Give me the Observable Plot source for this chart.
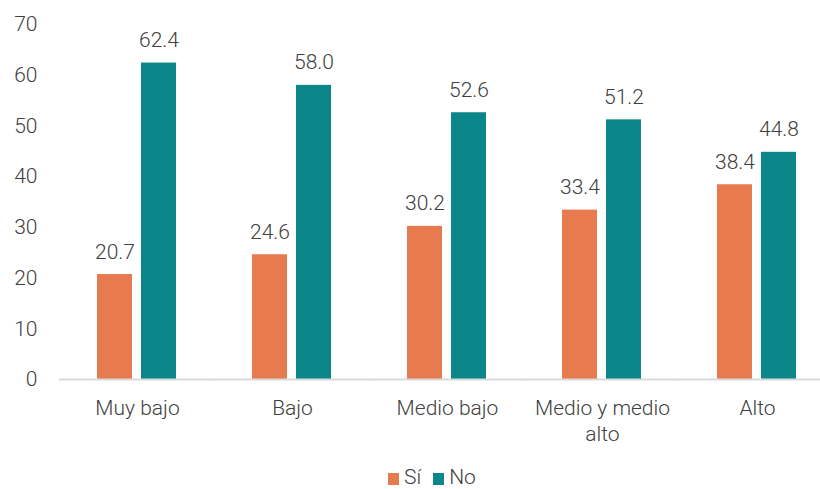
<!DOCTYPE html>
<html>
<head>
<meta charset="utf-8">
<script src="https://cdn.jsdelivr.net/npm/d3@7"></script>
<script src="https://cdn.jsdelivr.net/npm/@observablehq/plot@0.6"></script>
<style>
  body { margin: 0; background: #fff; font-family: Roboto, sans-serif; }
  #legend { height: 23px; line-height: 23px; padding-left: 388px; font-size: 21px; font-weight: 300; color: #404040; white-space: nowrap; }
  #legend span.sw { display: inline-block; width: 11px; height: 12px; margin-right: 5px; vertical-align: -1px; }
  #legend span.item { margin-right: 12px; }
  svg text { font-weight: 300; }
</style>
</head>
<body>
<div id="chart"></div>
<div id="legend"></div>
<script>
const categories = ["Muy bajo", "Bajo", "Medio bajo", "Medio y medio alto", "Alto"];
const tickLabels = ["Muy bajo", "Bajo", "Medio bajo", "Medio y medio\nalto", "Alto"];
const series = ["Sí", "No"];
const siValues = [20.7, 24.6, 30.2, 33.4, 38.4];
const noValues = [62.4, 58.0, 52.6, 51.2, 44.8];
const yTicks = [0, 10, 20, 30, 40, 50, 60, 70];
const colors = ["#E87A50", "#0B8789"];

const rows = [];
categories.forEach((c, i) => {
  rows.push({cat: c, series: "Sí", value: siValues[i]});
  rows.push({cat: c, series: "No", value: noValues[i]});
});
const fmt = d3.format(".1f");

const chart = Plot.plot({
  width: 820,
  height: 466,
  marginTop: 24,
  marginBottom: 87,
  marginLeft: 59,
  marginRight: -14,
  style: {fontFamily: "Roboto, sans-serif", fontSize: "21px", color: "#404040", background: "#fff"},
  fx: {domain: categories, paddingInner: 0.484, paddingOuter: 0.242, label: null, axis: null},
  x: {domain: series, paddingInner: 0.2, paddingOuter: 0, axis: null},
  y: {domain: [0, 70], axis: null},
  color: {domain: series, range: colors},
  marks: [
    Plot.axisY({ticks: yTicks, tickSize: 0, tickPadding: 60, label: null, fontSize: 21, fill: "#404040"}),
    Plot.axisFx({anchor: "bottom", tickSize: 0, tickPadding: 17, label: null, fontSize: 21, lineHeight: 1.25, fill: "#404040",
      tickFormat: d => tickLabels[categories.indexOf(d)]}),
    Plot.barY(rows, {fx: "cat", x: "series", y: "value", fill: "series"}),
    Plot.text(rows, {fx: "cat", x: "series", y: "value", text: d => fmt(d.value), lineAnchor: "bottom", dy: -16, fill: "#404040", fontSize: 21}),
    Plot.ruleY([0], {stroke: "#d9d9d9", strokeWidth: 2, insetLeft: -38, insetRight: -38})
  ]
});
document.getElementById("chart").appendChild(chart);

const legend = document.getElementById("legend");
series.forEach((s, i) => {
  const item = document.createElement("span");
  item.className = "item";
  const sw = document.createElement("span");
  sw.className = "sw";
  sw.style.background = colors[i];
  item.appendChild(sw);
  item.appendChild(document.createTextNode(s));
  legend.appendChild(item);
});
</script>
</body>
</html>
